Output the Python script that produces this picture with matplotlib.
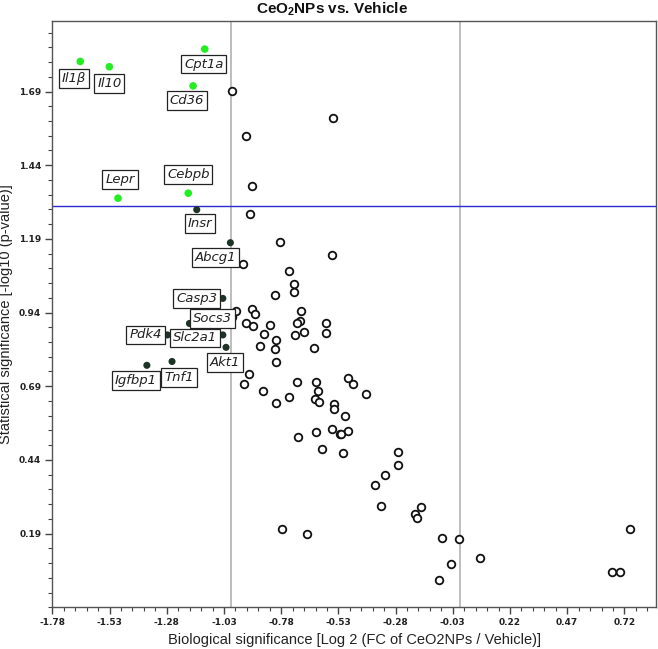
import numpy as np
import matplotlib
matplotlib.use("Agg")
import matplotlib.pyplot as plt
from matplotlib.ticker import FixedLocator

# open circles: genes not flagged
other_x = [-0.994, -0.553, -0.932, -0.907, -0.916, -0.786, -0.560, -0.949, -0.748, -0.726,
           -0.723, -0.806, -0.977, -0.906, -0.894, -0.993, -0.694, -0.698, -0.711, -0.932,
           -0.902, -0.827, -0.586, -0.582, -0.856, -0.802, -0.719, -0.681, -0.873, -0.805,
           -0.636, -0.802, -0.921, -0.941, -0.860, -0.710, -0.627, -0.617, -0.744, -0.487,
           -0.464, -0.802, -0.633, -0.614, -0.411, -0.551, -0.551, -0.501, -0.560, -0.627,
           -0.522, -0.518, -0.486, -0.706, -0.602, -0.510, -0.268, -0.268, -0.326, -0.369,
           -0.344, -0.169, -0.195, -0.186, -0.777, -0.665, -0.077, -0.003, 0.089, -0.036,
           -0.089, 0.744, 0.664, 0.702]
other_y = [1.692, 1.599, 1.540, 1.370, 1.276, 1.179, 1.135, 1.106, 1.080, 1.038,
           1.010, 1.000, 0.945, 0.951, 0.934, 0.925, 0.945, 0.913, 0.903, 0.903,
           0.894, 0.899, 0.903, 0.871, 0.867, 0.848, 0.864, 0.873, 0.826, 0.816,
           0.819, 0.771, 0.732, 0.697, 0.674, 0.706, 0.706, 0.674, 0.654, 0.718,
           0.696, 0.632, 0.645, 0.637, 0.664, 0.629, 0.612, 0.590, 0.546, 0.536,
           0.527, 0.529, 0.539, 0.519, 0.477, 0.463, 0.468, 0.423, 0.390, 0.355,
           0.284, 0.280, 0.256, 0.244, 0.207, 0.187, 0.174, 0.172, 0.107, 0.088,
           0.032, 0.206, 0.058, 0.058]

# significant genes (green)
sig_genes = ["Il1β", "Il10", "Cpt1a", "Cd36", "Lepr", "Cebpb"]
sig_x = [-1.658, -1.531, -1.114, -1.165, -1.493, -1.186]
sig_y = [1.792, 1.774, 1.834, 1.709, 1.328, 1.345]

# labelled genes below threshold (dark)
near_genes = ["Insr", "Abcg1", "Casp3", "Socs3", "Slc2a1", "Akt1", "Pdk4", "Igfbp1", "Tnf1"]
near_x = [-1.149, -1.002, -1.035, -1.181, -1.035, -1.021, -1.277, -1.367, -1.257]
near_y = [1.289, 1.177, 0.988, 0.903, 0.864, 0.822, 0.864, 0.761, 0.774]

x_ticks = [-1.78, -1.53, -1.28, -1.03, -0.78, -0.53, -0.28, -0.03, 0.22, 0.47, 0.72]
y_ticks = [0.19, 0.44, 0.69, 0.94, 1.19, 1.44, 1.69]

fc_lines = [-1.0, 0.0]
p_line = 1.301

# label box offsets in pixels (dx, dy)
sig_offsets = [(-6, -17), (0, -17), (-1, -15), (-6, -15), (2, 19), (0, 19)]
near_offsets = [(3, -14), (-15, -15), (-26, 0), (23, 5), (-28, -3), (-1, -15),
                (-22, 0), (-11, -15), (7, -16)]

plt.rcParams['mathtext.fontset'] = 'custom'
plt.rcParams['mathtext.rm'] = 'Liberation Sans'
plt.rcParams['mathtext.bf'] = 'Liberation Sans:bold'

fig = plt.figure(figsize=(6.58, 6.49), dpi=100)
ax = fig.add_axes([0.0796, 0.0643, 0.918, 0.9037])

for v in fc_lines:
    ax.axvline(v, color='#b8b8b8', lw=1.3, zorder=1)
ax.axhline(p_line, color='#2a2ad0', lw=1.0, zorder=1)

ax.scatter(other_x, other_y, s=30, facecolors='white', edgecolors='#111111',
           linewidths=1.3, zorder=3)
ax.scatter(sig_x, sig_y, s=30, color='#22ee22', edgecolors='none', zorder=3)
ax.scatter(near_x, near_y, s=26, color='#1d3325', edgecolors='none', zorder=3)

box = dict(boxstyle='square,pad=0.22', fc='white', ec='#222222', lw=0.9)
for names, xs, ys, offs in [(sig_genes, sig_x, sig_y, sig_offsets),
                             (near_genes, near_x, near_y, near_offsets)]:
    for n, x, y, o in zip(names, xs, ys, offs):
        ax.annotate(n, (x, y), xytext=o, textcoords='offset pixels',
                    ha='center', va='center', fontsize=9.5, style='italic',
                    color='#222222', bbox=box, zorder=4)

ax.set_xlim(-1.78, 0.86)
ax.set_ylim(-0.06, 1.93)
ax.xaxis.set_major_locator(FixedLocator(x_ticks))
ax.yaxis.set_major_locator(FixedLocator(y_ticks))
ax.xaxis.set_minor_locator(FixedLocator(np.arange(-1.78, 0.86, 0.05)))
ax.yaxis.set_minor_locator(FixedLocator(np.arange(-0.06, 1.93, 0.05)))
ax.set_xticklabels([f"{t:.2f}" for t in x_ticks])
ax.set_yticklabels([f"{t:.2f}" for t in y_ticks])
ax.tick_params(which='major', direction='out', length=5, width=1, color='#444444',
               labelsize=6.5, pad=3)
ax.tick_params(which='minor', direction='out', length=3, width=0.8, color='#444444')
for lab in ax.get_xticklabels() + ax.get_yticklabels():
    lab.set_fontweight('bold')
    lab.set_color('#222222')
for sp in ax.spines.values():
    sp.set_color('#555555')
    sp.set_linewidth(1.0)

lab_font = ['Liberation Sans Narrow', 'Liberation Sans', 'DejaVu Sans']
ax.set_xlabel("Biological significance [Log 2 (FC of CeO2NPs / Vehicle)]",
              family=lab_font, fontsize=10.5, color='#222222', labelpad=4)
ax.set_ylabel("Statistical significance [-log10 (p-value)]",
              family=lab_font, fontsize=10.5, color='#222222', labelpad=4)
fig.text(0.505, 0.986, r"CeO$_\mathbf{2}$NPs vs. Vehicle", ha='center', va='center',
         family=lab_font, fontsize=11, fontweight='bold', color='#111111')

fig.savefig("out.png", dpi=100)
